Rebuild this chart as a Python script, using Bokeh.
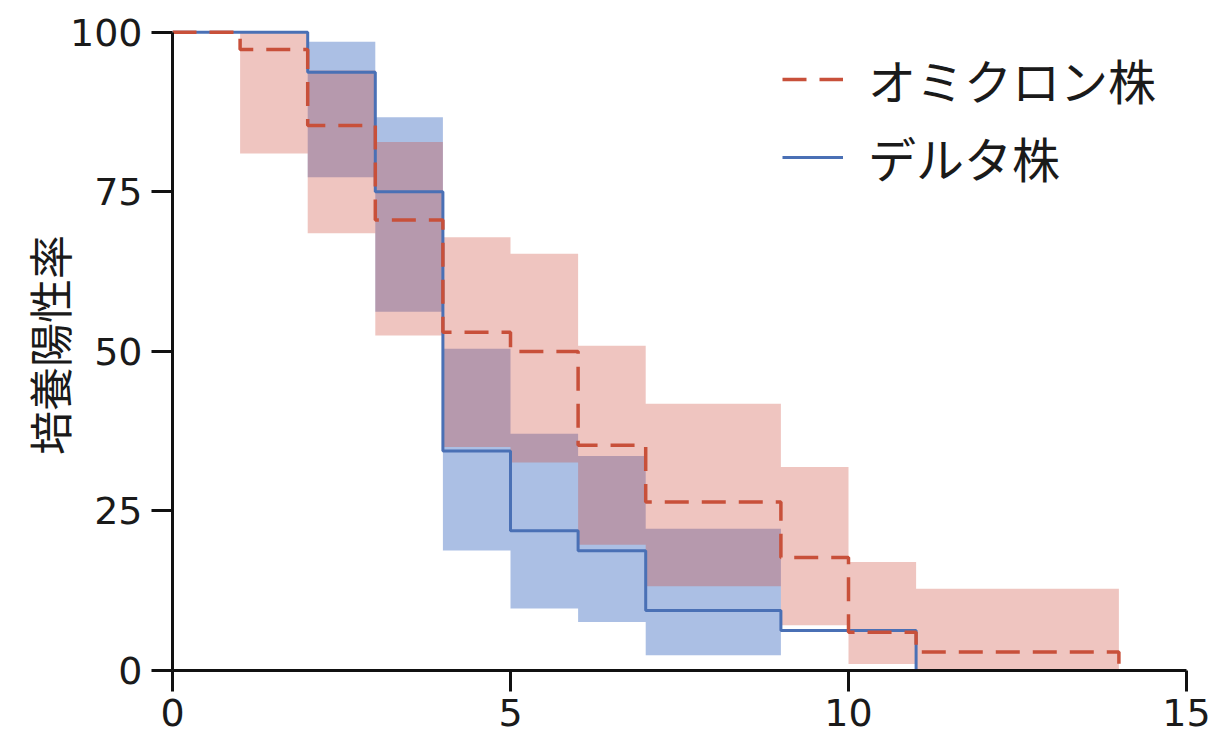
from bokeh.plotting import figure
from bokeh.models import Range1d, Legend, LegendItem, FixedTicker
from bokeh.embed import file_html
from bokeh.resources import INLINE

# Omicron (dashed red) Kaplan-Meier step curve
omi_days = [0, 1, 2, 3, 4, 5, 6, 7, 9, 10, 11, 14]
omi_rate = [100, 97.3, 85.4, 70.6, 53.0, 50.0, 35.3, 26.4, 17.7, 6.0, 2.9, 0]
# Omicron confidence band
omi_band_days = [1, 2, 3, 4, 5, 6, 7, 9, 10, 11, 14]
omi_upper = [100, 94.0, 82.8, 67.9, 65.3, 50.9, 41.8, 31.9, 17.0, 12.8, 12.8]
omi_lower = [81.0, 68.5, 52.5, 35.0, 32.6, 19.7, 13.2, 7.1, 1.0, 0, 0]

# Delta (solid blue) Kaplan-Meier step curve
del_days = [0, 2, 3, 4, 5, 6, 7, 9, 11]
del_rate = [100, 93.75, 75.0, 34.4, 21.9, 18.75, 9.4, 6.25, 0]
# Delta confidence band
del_band_days = [2, 3, 4, 5, 6, 7, 9]
del_upper = [98.5, 86.7, 50.4, 37.1, 33.6, 22.2, 22.2]
del_lower = [77.3, 56.2, 18.8, 9.7, 7.6, 2.4, 2.4]

x_ticks = [0, 5, 10, 15]
y_ticks = [0, 25, 50, 75, 100]

RED = "#c8503a"
BLUE = "#4a70b5"

p = figure(width=1213, height=745, x_range=Range1d(0, 15), y_range=Range1d(0, 102),
           output_backend="svg", toolbar_location=None,
           min_border_left=172, min_border_right=27, min_border_top=19, min_border_bottom=75)
p.outline_line_color = None
p.xgrid.grid_line_color = None
p.ygrid.grid_line_color = None
p.background_fill_color = "white"
p.border_fill_color = "white"

p.varea_step(x=del_band_days, y1=del_lower, y2=del_upper, step_mode="after",
             fill_color="#4472c4", fill_alpha=0.45)
p.varea_step(x=omi_band_days, y1=omi_lower, y2=omi_upper, step_mode="after",
             fill_color="#cd4b3c", fill_alpha=0.32)

r_del = p.step(del_days, del_rate, mode="after", line_color=BLUE, line_width=3)
r_omi = p.step(omi_days, omi_rate, mode="after", line_color=RED, line_width=3.5,
               line_dash="24 13")

for ax in (p.xaxis[0], p.yaxis[0]):
    ax.axis_line_color = "#111111"
    ax.axis_line_width = 3
    ax.major_tick_line_color = "#111111"
    ax.major_tick_line_width = 3
    ax.major_tick_out = 21
    ax.major_tick_in = 0
    ax.minor_tick_line_color = None
    ax.major_label_text_font = "DejaVu Sans"
    ax.major_label_text_font_size = "38px"
    ax.major_label_text_color = "#1a1a1a"

p.xaxis[0].major_label_standoff = 7
p.yaxis[0].major_label_standoff = 9
p.xaxis[0].ticker = FixedTicker(ticks=x_ticks)
p.yaxis[0].ticker = FixedTicker(ticks=y_ticks)
p.yaxis[0].bounds = (0, 100)

p.yaxis[0].axis_label = "培養陽性率"
p.yaxis[0].axis_label_text_font = "Noto Sans CJK JP"
p.yaxis[0].axis_label_text_font_size = "44px"
p.yaxis[0].axis_label_text_font_style = "normal"
p.yaxis[0].axis_label_text_color = "#1a1a1a"
p.yaxis[0].axis_label_standoff = -14

legend = Legend(items=[LegendItem(label="オミクロン株", renderers=[r_omi]),
                       LegendItem(label="デルタ株", renderers=[r_del])],
                location=(610, 478), padding=0, margin=0, spacing=8,
                glyph_width=61, glyph_height=60, label_height=60, label_standoff=25,
                label_text_font="Noto Sans CJK JP", label_text_font_size="48px",
                label_text_color="#1a1a1a",
                border_line_color=None, background_fill_alpha=0)
p.add_layout(legend)

open("out.html", "w").write(file_html(p, INLINE))
